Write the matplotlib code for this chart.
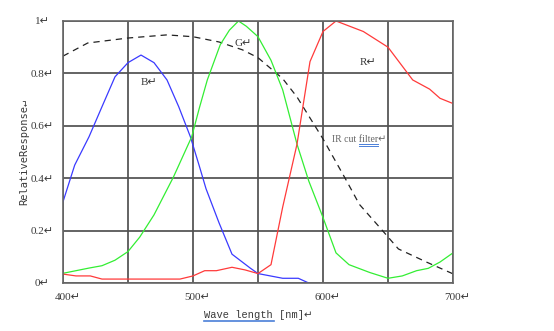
import numpy as np
import matplotlib
matplotlib.use("Agg")
import matplotlib.pyplot as plt
import matplotlib.transforms as mtransforms
from matplotlib.lines import Line2D

# spectral response curves
wl_b = [400, 409, 420, 430, 440, 450, 460, 470, 480, 489, 498, 505, 510, 520, 530, 544, 550, 569, 581, 589]
resp_b = [0.31, 0.45, 0.558, 0.673, 0.787, 0.841, 0.87, 0.841, 0.775, 0.673, 0.558, 0.444, 0.36, 0.23, 0.11, 0.057, 0.036, 0.018, 0.018, 0.0]

wl_g = [400, 410, 420, 430, 440, 450, 459, 470, 485, 499, 505, 511, 521, 528, 535, 541, 550, 560, 569, 580, 589, 600, 610, 620, 636, 650, 661, 672, 681, 690, 700]
resp_g = [0.037, 0.047, 0.057, 0.066, 0.087, 0.12, 0.175, 0.26, 0.405, 0.558, 0.67, 0.775, 0.91, 0.965, 1.0, 0.98, 0.94, 0.85, 0.737, 0.53, 0.39, 0.25, 0.115, 0.07, 0.04, 0.018, 0.027, 0.047, 0.056, 0.08, 0.115]

wl_r = [400, 410, 421, 430, 440, 450, 460, 470, 480, 490, 500, 509, 518, 530, 540, 550, 560, 569, 580, 590, 600, 610, 631, 650, 669, 682, 690, 700]
resp_r = [0.034, 0.027, 0.027, 0.015, 0.015, 0.015, 0.015, 0.015, 0.015, 0.015, 0.027, 0.047, 0.047, 0.06, 0.05, 0.036, 0.07, 0.29, 0.53, 0.845, 0.96, 1.0, 0.96, 0.90, 0.775, 0.74, 0.705, 0.685]

wl_ir = [400, 419, 450, 480, 500, 520, 538, 550, 569, 580, 590, 600, 612, 617, 628, 644, 658, 680, 700]
resp_ir = [0.866, 0.916, 0.935, 0.947, 0.94, 0.92, 0.89, 0.86, 0.78, 0.71, 0.63, 0.55, 0.444, 0.40, 0.30, 0.21, 0.13, 0.079, 0.035]

x_ticks = [400, 450, 500, 550, 600, 650, 700]
x_labels = ["400\u21b5", "", "500\u21b5", "", "600\u21b5", "", "700\u21b5"]
y_ticks = [0, 0.2, 0.4, 0.6, 0.8, 1.0]
y_labels = ["0\u21b5", "0.2\u21b5", "0.4\u21b5", "0.6\u21b5", "0.8\u21b5", "1\u21b5"]

serif = ["Liberation Serif", "DejaVu Sans"]
mono = ["Liberation Mono", "DejaVu Sans"]
txt_col = "#3a3a3a"

fig = plt.figure(figsize=(5.54, 3.31), dpi=100)
ax = fig.add_axes([63 / 554, 1 - 283 / 331, 390 / 554, 262 / 331])

ax.plot(wl_ir, resp_ir, color="#222222", lw=0.9, linestyle=(0, (5, 4)))
ax.plot(wl_b, resp_b, color="#3a3aff", lw=0.9)
ax.plot(wl_g, resp_g, color="#33ee33", lw=0.9)
ax.plot(wl_r, resp_r, color="#ff3a3a", lw=0.9)

ax.set_xlim(400, 700)
ax.set_ylim(0, 1)
ax.set_xticks(x_ticks)
ax.set_xticklabels(x_labels, family=serif, fontsize=8, color=txt_col)
ax.set_yticks(y_ticks)
ax.set_yticklabels(y_labels, family=serif, fontsize=8, color=txt_col, ha="center")
ax.tick_params(axis="both", length=0)
ax.tick_params(axis="x", pad=7)
ax.tick_params(axis="y", pad=15)
shift = mtransforms.ScaledTranslation(4.5 / 100, 0, fig.dpi_scale_trans)
for lab in ax.get_xticklabels():
    lab.set_transform(lab.get_transform() + shift)

ax.grid(True, color="#505050", lw=1.25)
for s in ax.spines.values():
    s.set_color("#666666")
    s.set_linewidth(1.2)

ax.set_ylabel("RelativeResponse\u21b5", family=["DejaVu Sans Mono", "DejaVu Sans"],
              fontsize=7.5, color=txt_col, labelpad=1)
xl = ax.set_xlabel("Wave length [nm]\u21b5", family=mono, fontsize=7.5,
                   color=txt_col, labelpad=6)

ax.text(466, 0.767, "B\u21b5", family=serif, fontsize=8, color=txt_col, ha="center", va="center")
ax.text(538.5, 0.916, "G\u21b5", family=serif, fontsize=8, color=txt_col, ha="center", va="center")
ax.text(634.6, 0.84, "R\u21b5", family=serif, fontsize=8, color=txt_col, ha="center", va="center")
ir = ax.text(607, 0.546, "IR cut filter\u21b5", family=serif, fontsize=7, color="#666666",
             ha="left", va="center")

# spell-check style underlines
fig.canvas.draw()
r = fig.canvas.get_renderer()
inv = fig.transFigure.inverted()
bb = xl.get_window_extent(r)
cw = bb.width / len(xl.get_text())
x0, y0 = inv.transform((bb.x0, bb.y0 - 1))
x1, _ = inv.transform((bb.x0 + 11 * cw, bb.y0))
fig.add_artist(Line2D([x0, x1], [y0, y0], color="#4a7fd8", lw=1.2, transform=fig.transFigure))

pre = ax.text(607, 0.546, "IR cut ", family=serif, fontsize=7, ha="left", va="center", alpha=0)
full = ax.text(607, 0.546, "IR cut filter", family=serif, fontsize=7, ha="left", va="center", alpha=0)
b_ir = ir.get_window_extent(r)
xa = pre.get_window_extent(r).x1
xb = full.get_window_extent(r).x1
for dy in (1.0, 2.6):
    p0 = inv.transform((xa, b_ir.y0 + 1 - dy))
    p1 = inv.transform((xb, b_ir.y0 + 1 - dy))
    fig.add_artist(Line2D([p0[0], p1[0]], [p0[1], p0[1]], color="#4a7fd8", lw=0.7,
                          transform=fig.transFigure))

fig.savefig("out.png", dpi=100)
